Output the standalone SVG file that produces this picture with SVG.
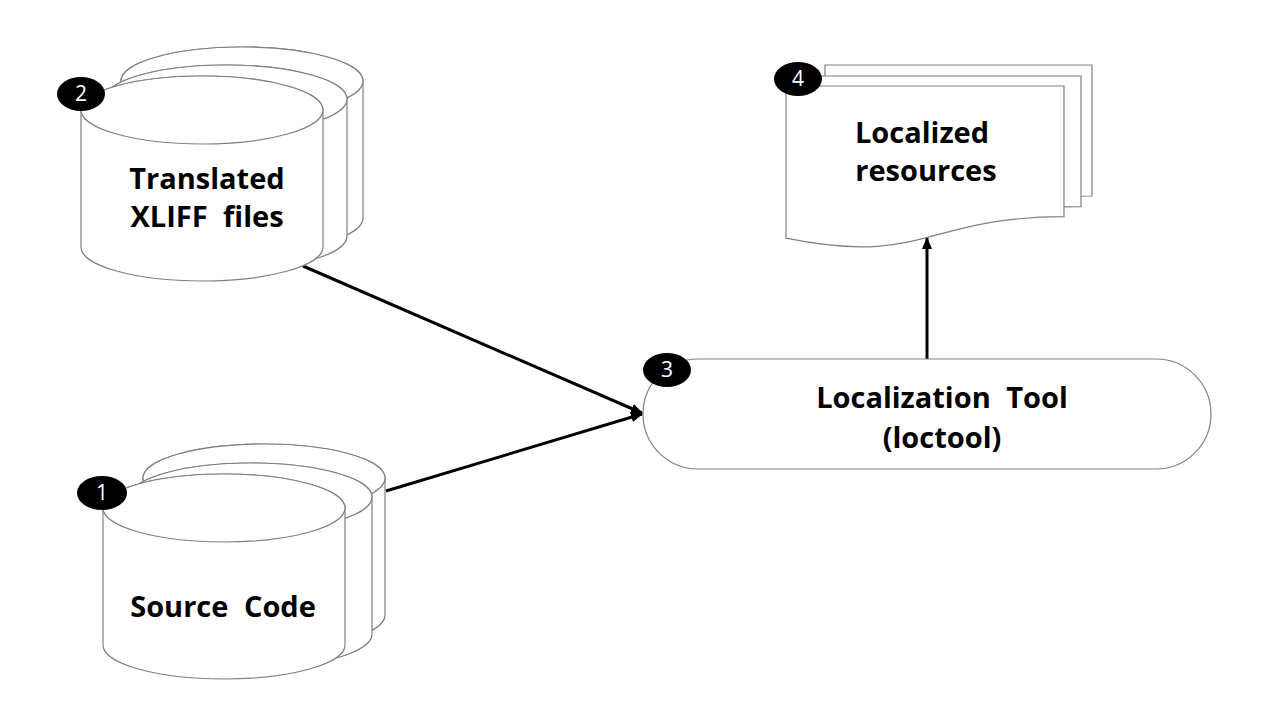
<svg xmlns="http://www.w3.org/2000/svg" xmlns:xlink="http://www.w3.org/1999/xlink" width="1280" height="720" viewBox="0 0 1280 720">
  <style>
    .shape { fill: #ffffff; stroke: #808080; stroke-width: 1.2; }
    .label { font-family: "Open Sans", "Liberation Sans", sans-serif; font-weight: bold; font-size: 29px; word-spacing: 8px; fill: #000000; text-anchor: middle; }
    .badge { fill: #000000; }
    .badgetext { font-family: "Open Sans", "Liberation Sans", sans-serif; font-size: 21px; fill: #ffffff; text-anchor: middle; }
    .conn { stroke: #000000; stroke-width: 3; fill: none; }
  </style>
  <defs>
    <g id="cyl">
      <path class="shape" d="M-121,0 V137 A121,34 0 0 0 121,137 V0 A121,34 0 0 0 -121,0 Z"/>
      <ellipse class="shape" cx="0" cy="0" rx="121" ry="34"/>
    </g>
    <marker id="arrow" markerUnits="userSpaceOnUse" markerWidth="12" markerHeight="12" viewBox="0 0 12 12" refX="11" refY="6" orient="auto">
      <path d="M0,1 L12,6 L0,11 Z" fill="#000000"/>
    </marker>
  </defs>
  <rect x="0" y="0" width="1280" height="720" fill="#ffffff"/>

  <g id="connectors">
    <line class="conn" x1="303" y1="266" x2="642" y2="413" marker-end="url(#arrow)"/>
    <line class="conn" x1="386" y1="491" x2="642" y2="414" marker-end="url(#arrow)"/>
    <line class="conn" x1="927" y1="359" x2="927" y2="238" marker-end="url(#arrow)"/>
  </g>

  <g id="node-xliff">
    <use xlink:href="#cyl" href="#cyl" transform="translate(242,81)"/>
    <use xlink:href="#cyl" href="#cyl" transform="translate(226,99)"/>
    <use xlink:href="#cyl" href="#cyl" transform="translate(202,110)"/>
    <text class="label" x="207" y="189">Translated</text>
    <text class="label" x="207" y="227">XLIFF files</text>
    <ellipse class="badge" cx="81" cy="94" rx="24" ry="17"/>
    <text class="badgetext" x="81" y="101">2</text>
  </g>

  <g id="node-source">
    <use xlink:href="#cyl" href="#cyl" transform="translate(264,478)"/>
    <use xlink:href="#cyl" href="#cyl" transform="translate(251,497)"/>
    <use xlink:href="#cyl" href="#cyl" transform="translate(224,508)"/>
    <text class="label" x="223" y="617">Source Code</text>
    <ellipse class="badge" cx="102" cy="493" rx="25" ry="17"/>
    <text class="badgetext" x="102" y="500">1</text>
  </g>

  <g id="node-loctool">
    <rect class="shape" x="643" y="359" width="568" height="110" rx="55" ry="55"/>
    <text class="label" x="942" y="408">Localization Tool</text>
    <text class="label" x="942" y="448">(loctool)</text>
    <ellipse class="badge" cx="667" cy="370" rx="24" ry="17"/>
    <text class="badgetext" x="667" y="377">3</text>
  </g>

  <g id="node-resources">
    <path class="shape" d="M825,65 H1092 V196 C958.5,196 958.5,245.5 825,217 Z"/>
    <path class="shape" d="M805,76 H1081 V206.7 C943,206.7 943,256.5 805,228.2 Z"/>
    <path class="shape" d="M786,86 H1064 V216.7 C925,216.7 925,266.5 786,238.2 Z"/>
    <text class="label" x="922" y="143">Localized</text>
    <text class="label" x="926" y="181">resources</text>
    <ellipse class="badge" cx="798" cy="79" rx="24" ry="17"/>
    <text class="badgetext" x="798" y="86">4</text>
  </g>
</svg>
